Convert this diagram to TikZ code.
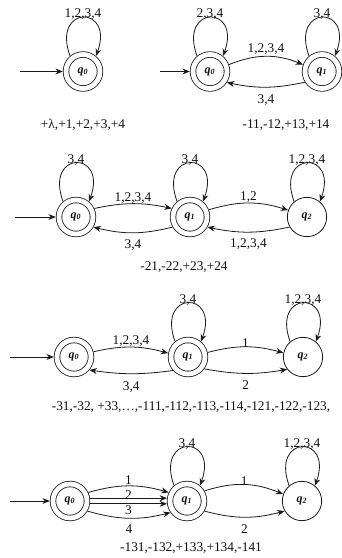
\documentclass[tikz,border=0pt]{standalone}
\usepackage{fontspec}
\setmainfont{Liberation Serif}
\usepackage{tikz}
\usetikzlibrary{arrows.meta}
\definecolor{faLine}{HTML}{1A1A1A}
\definecolor{faText}{HTML}{111111}
\tikzset{
  qstate/.style={
    circle, draw=faLine, line width=0.6pt, minimum size=29.5pt, inner sep=0pt,
    font=\small\bfseries\itshape, text=faText
  },
  qaccept/.style={qstate, minimum size=25.5pt, double, double distance=3.6pt, outer sep=2.4pt},
  trans/.style={-{Stealth[length=5.5pt, width=4.4pt]}, line width=0.6pt, faLine},
  selfloop/.style={trans, out=110, in=70, distance=41pt},
  lbl/.style={font=\normalsize, text=faText, inner sep=0pt},
  caption/.style={font=\normalsize, text=faText, inner sep=0pt}
}

\begin{document}
\begin{tikzpicture}[x=0.75pt, y=0.75pt]
  \useasboundingbox (0,0) rectangle (342,558);

  % row 1
  \node[qaccept] (q0a) at (83,486.5) {q\textsubscript{0}};
  \coordinate (in0a) at (20,486.5);
  \draw[trans] (in0a) -- (q0a);
  \draw[selfloop] (q0a.130) to node[lbl, above=-2pt] {1,2,3,4} (q0a.50);
  \node[caption] (cap1) at (83,433) {+λ,+1,+2,+3,+4};

  % row 2
  \node[qaccept] (q0b) at (210,486.5) {q\textsubscript{0}};
  \node[qaccept] (q1b) at (322,486.5) {q\textsubscript{1}};
  \coordinate (in0b) at (160,486.5);
  \draw[trans] (in0b) -- (q0b);
  \draw[selfloop] (q0b.130) to node[lbl, above=-2pt] {2,3,4} (q0b.50);
  \draw[selfloop] (q1b.130) to node[lbl, above=-2pt] {3,4} (q1b.50);
  \draw[trans] (q0b.20) to[bend left=22] node[lbl, above=1pt] {1,2,3,4} (q1b.160);
  \draw[trans] (q1b.-148) to[bend left=12] node[lbl, below=5pt] {3,4} (q0b.-33);
  \node[caption] (cap2) at (286,433) {-11,-12,+13,+14};

  % row 3
  \node[qaccept] (q0c) at (76,341) {q\textsubscript{0}};
  \node[qaccept] (q1c) at (190,341) {q\textsubscript{1}};
  \node[qstate] (q2c) at (307,341) {q\textsubscript{2}};
  \coordinate (in0c) at (15,341);
  \draw[trans] (in0c) -- (q0c);
  \draw[selfloop] (q0c.130) to node[lbl, above=-2pt] {3,4} (q0c.50);
  \draw[selfloop] (q1c.130) to node[lbl, above=-2pt] {3,4} (q1c.50);
  \draw[selfloop] (q2c.130) to node[lbl, above=-2pt] {1,2,3,4} (q2c.50);
  \draw[trans] (q0c.25) to[bend left=12] node[lbl, above=0pt] {1,2,3,4} (q1c.155);
  \draw[trans] (q1c.-150) to[bend left=14] node[lbl, below=5pt] {3,4} (q0c.-30);
  \draw[trans] (q1c.21) to[bend left=17] node[lbl, above=0pt] {1,2} (q2c.160);
  \draw[trans] (q2c.-150) to[bend left=12] node[lbl, below=5pt] {1,2,3,4} (q1c.-30);
  \node[caption] (cap3) at (184,291) {-21,-22,+23,+24};

  % row 4
  \node[qaccept] (q0d) at (74,201) {q\textsubscript{0}};
  \node[qaccept] (q1d) at (188,201) {q\textsubscript{1}};
  \node[qstate] (q2d) at (303,201) {q\textsubscript{2}};
  \coordinate (in0d) at (10,201);
  \draw[trans] (in0d) -- (q0d);
  \draw[selfloop] (q1d.130) to node[lbl, above=-2pt] {3,4} (q1d.50);
  \draw[selfloop] (q2d.130) to node[lbl, above=-2pt] {1,2,3,4} (q2d.50);
  \draw[trans] (q0d.15) to[bend left=14] node[lbl, above=0pt] {1,2,3,4} (q1d.169);
  \draw[trans] (q1d.-138) to[bend left=8] node[lbl, below=5.5pt] {3,4} (q0d.-40);
  \draw[trans] (q1d.13) to[bend left=15] node[lbl, above=-1pt] {1} (q2d.168);
  \draw[trans] (q1d.-36) to[bend right=10] node[lbl, below=5.5pt] {2} (q2d.-142);
  \node[caption] (cap4) at (191,151) {-31,-32, +33,\ldots,-111,-112,-113,-114,-121,-122,-123,};

  % row 5
  \node[qaccept] (q0e) at (70,57) {q\textsubscript{0}};
  \node[qaccept] (q1e) at (187,57) {q\textsubscript{1}};
  \node[qstate] (q2e) at (302,57) {q\textsubscript{2}};
  \coordinate (in0e) at (10,57);
  \draw[trans] (in0e) -- (q0e);
  \draw[selfloop] (q1e.130) to node[lbl, above=-2pt] {3,4} (q1e.50);
  \draw[selfloop] (q2e.130) to node[lbl, above=-2pt] {1,2,3,4} (q2e.50);
  \draw[trans] (q0e.25) to[bend left=16] node[lbl, above=0.5pt] {1} (q1e.155);
  \draw[trans] (q0e.8) -- node[lbl, above=-1pt] {2} (q1e.172);
  \draw[trans] (q0e.-8) -- node[lbl, below=1pt] {3} (q1e.-172);
  \draw[trans] (q0e.-30) to[bend right=15] node[lbl, below=5pt] {4} (q1e.-145);
  \draw[trans] (q1e.30) to[bend left=20] node[lbl, above=-1pt] {1} (q2e.160);
  \draw[trans] (q1e.-30) to[bend right=15] node[lbl, below=5pt] {2} (q2e.-150);
  \node[caption] (cap5) at (191,10) {-131,-132,+133,+134,-141};
\end{tikzpicture}
\end{document}
